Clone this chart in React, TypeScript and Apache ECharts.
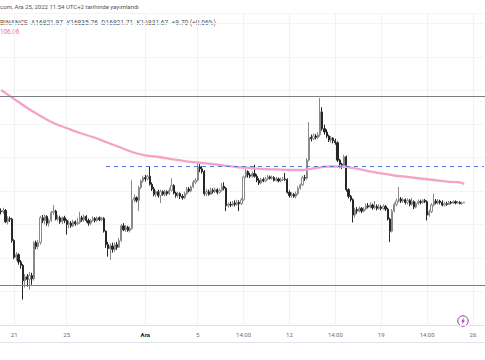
import React, { useEffect, useRef } from "react";
import * as echarts from "echarts";

// ---- time base: 4-hour candles (local UTC+2 clock), first candle 20 Nov 2022 02:00
const candleStartUtc = Date.UTC(2022, 10, 20, 2);
const candleStepHours = 4;
const categoryCount = 222;

// ---- OHLC values
const opens = [
  16700, 16690, 16710, 16540, 16590, 16580,
  16260, 16010, 16050, 15940, 15890, 15660,
  15720, 15680, 15740, 15690, 16230, 16170,
  16230, 16600, 16560, 16620, 16520, 16560,
  16680, 16700, 16580, 16600, 16540, 16600,
  16560, 16500, 16520, 16480, 16540, 16510,
  16530, 16600, 16570, 16620, 16560, 16520,
  16560, 16590, 16560, 16600, 16570, 16590,
  16400, 16200, 16140, 16180, 16130, 16200,
  16160, 16260, 16480, 16420, 16460, 16410,
  16440, 16870, 16900, 16860, 17050, 17150,
  17200, 17180, 17220, 17100, 17030, 16950,
  16990, 16930, 16990, 16950, 16990, 16960,
  17010, 17080, 16970, 16930, 16960, 16920,
  16900, 16960, 17030, 17000, 17060, 17130,
  17160, 17360, 17330, 17290, 16960, 16990,
  16950, 17010, 16990, 17020, 16980, 17010,
  17070, 17040, 16780, 16800, 16790, 16820,
  16800, 16830, 16810, 16870, 17210, 17290,
  17240, 17220, 17260, 17220, 17160, 17120,
  17170, 17150, 17180, 17210, 17190, 17200,
  17160, 17180, 17150, 17170, 17180, 17170,
  16980, 16930, 16950, 16920, 16960, 17040,
  17090, 17200, 17190, 17460, 17800, 17780,
  17820, 17800, 17840, 18180, 17930, 17880,
  17820, 17760, 17790, 17750, 17720, 17460,
  17400, 17360, 17510, 17020, 16920, 16870,
  16640, 16720, 16700, 16740, 16700, 16730,
  16780, 16760, 16790, 16750, 16770, 16740,
  16760, 16740, 16770, 16730, 16580, 16400,
  16700, 16800, 16850, 16880, 16850, 16870,
  16830, 16860, 16800, 16840, 16760, 16810,
  16840, 16830, 16860, 16840, 16640, 16690,
  16790, 16850, 16820, 16850, 16830, 16790,
  16810, 16800, 16830, 16820, 16840, 16820,
  16830, 16810, 16821.97,
];
const closes = [
  16690, 16710, 16540, 16590, 16580, 16260,
  16010, 16050, 15940, 15890, 15660, 15720,
  15680, 15740, 15690, 16230, 16170, 16230,
  16600, 16560, 16620, 16520, 16560, 16680,
  16700, 16580, 16600, 16540, 16600, 16560,
  16500, 16520, 16480, 16540, 16510, 16530,
  16600, 16570, 16620, 16560, 16520, 16560,
  16590, 16560, 16600, 16570, 16590, 16400,
  16200, 16140, 16180, 16130, 16200, 16160,
  16260, 16480, 16420, 16460, 16410, 16440,
  16870, 16900, 16860, 17050, 17150, 17200,
  17180, 17220, 17100, 17030, 16950, 16990,
  16930, 16990, 16950, 16990, 16960, 17010,
  17080, 16970, 16930, 16960, 16920, 16900,
  16960, 17030, 17000, 17060, 17130, 17160,
  17360, 17330, 17290, 16960, 16990, 16950,
  17010, 16990, 17020, 16980, 17010, 17070,
  17040, 16780, 16800, 16790, 16820, 16800,
  16830, 16810, 16870, 17210, 17290, 17240,
  17220, 17260, 17220, 17160, 17120, 17170,
  17150, 17180, 17210, 17190, 17200, 17160,
  17180, 17150, 17170, 17180, 17170, 16980,
  16930, 16950, 16920, 16960, 17040, 17090,
  17200, 17190, 17460, 17800, 17780, 17820,
  17800, 17840, 18180, 17930, 17880, 17820,
  17760, 17790, 17750, 17720, 17460, 17400,
  17360, 17510, 17020, 16920, 16870, 16640,
  16720, 16700, 16740, 16700, 16730, 16780,
  16760, 16790, 16750, 16770, 16740, 16760,
  16740, 16770, 16730, 16580, 16400, 16700,
  16800, 16850, 16880, 16850, 16870, 16830,
  16860, 16800, 16840, 16760, 16810, 16840,
  16830, 16860, 16840, 16640, 16690, 16790,
  16850, 16820, 16850, 16830, 16790, 16810,
  16800, 16830, 16820, 16840, 16820, 16830,
  16810, 16821.97, 16831.67,
];
const highs = [
  16740, 16750, 16730, 16620, 16620, 16600,
  16280, 16090, 16070, 15970, 15910, 15760,
  15760, 15790, 15780, 16250, 16260, 16270,
  16630, 16640, 16650, 16640, 16590, 16700,
  16790, 16720, 16640, 16630, 16620, 16630,
  16580, 16560, 16550, 16570, 16560, 16600,
  16690, 16630, 16650, 16640, 16590, 16580,
  16620, 16610, 16620, 16620, 16610, 16610,
  16410, 16240, 16220, 16230, 16230, 16240,
  16300, 16510, 16520, 16490, 16480, 16470,
  17160, 16950, 16920, 17080, 17170, 17230,
  17240, 17240, 17360, 17130, 17060, 17010,
  17020, 17020, 17010, 17020, 17010, 17050,
  17190, 17100, 16990, 16990, 16980, 16950,
  16990, 17060, 17060, 17080, 17160, 17190,
  17430, 17400, 17370, 17310, 17030, 17020,
  17050, 17040, 17050, 17040, 17040, 17120,
  17130, 17060, 16830, 16840, 16850, 16860,
  16870, 16860, 16900, 17230, 17330, 17310,
  17270, 17290, 17390, 17250, 17190, 17200,
  17200, 17210, 17240, 17230, 17230, 17220,
  17210, 17200, 17200, 17210, 17270, 17190,
  17010, 16980, 16970, 16990, 17070, 17110,
  17230, 17240, 17490, 18030, 17840, 17860,
  17850, 17880, 18390, 18250, 17990, 17920,
  17840, 17820, 17800, 17780, 17740, 17480,
  17420, 17540, 17530, 17040, 16940, 16890,
  16750, 16760, 16770, 16760, 16760, 16810,
  16820, 16830, 16810, 16850, 16800, 16800,
  16790, 16800, 16790, 16750, 16600, 16730,
  16830, 16890, 17060, 16910, 16900, 16890,
  16890, 16880, 16900, 16860, 16840, 16870,
  16870, 16880, 16880, 16860, 16720, 16820,
  16960, 16880, 16880, 16870, 16860, 16840,
  16840, 16850, 16850, 16860, 16860, 16850,
  16850, 16840, 16835.76,
];
const lows = [
  16650, 16660, 16520, 16500, 16540, 16230,
  15980, 15960, 15900, 15840, 15380, 15560,
  15570, 15530, 15600, 15660, 16130, 16130,
  16200, 16520, 16500, 16480, 16470, 16540,
  16640, 16560, 16550, 16510, 16510, 16520,
  16350, 16440, 16450, 16460, 16480, 16490,
  16510, 16540, 16540, 16530, 16480, 16490,
  16540, 16530, 16540, 16550, 16550, 16380,
  16150, 16020, 15970, 16080, 16090, 16120,
  16150, 16240, 16400, 16390, 16390, 16380,
  16420, 16830, 16830, 16700, 17030, 17120,
  17140, 17160, 17080, 17000, 16920, 16910,
  16900, 16820, 16930, 16920, 16930, 16940,
  16990, 16950, 16900, 16900, 16880, 16870,
  16880, 16940, 16980, 16980, 17040, 17100,
  17140, 17280, 17260, 16930, 16920, 16930,
  16940, 16960, 16970, 16950, 16960, 16990,
  17010, 16700, 16750, 16760, 16770, 16770,
  16780, 16700, 16790, 16850, 17190, 17200,
  17190, 17200, 17200, 17130, 17090, 17100,
  17130, 17130, 17160, 17170, 17170, 17140,
  17140, 17130, 17130, 17150, 17150, 16960,
  16900, 16900, 16900, 16890, 16940, 17020,
  17070, 17150, 17170, 17440, 17740, 17760,
  17770, 17780, 17810, 17900, 17840, 17790,
  17730, 17720, 17710, 17690, 17430, 17340,
  17330, 17340, 16990, 16890, 16840, 16530,
  16600, 16660, 16680, 16670, 16680, 16710,
  16740, 16740, 16720, 16730, 16710, 16720,
  16710, 16720, 16700, 16560, 16240, 16380,
  16680, 16770, 16830, 16820, 16820, 16800,
  16800, 16770, 16780, 16730, 16740, 16790,
  16800, 16810, 16820, 16560, 16620, 16670,
  16770, 16800, 16800, 16800, 16770, 16770,
  16780, 16790, 16800, 16810, 16800, 16810,
  16800, 16800, 16821.71,
];

// moving average, one reading per day (first candle of each day) plus the latest value
const maDaily = [
  18507, 18373, 18238, 18119, 18015, 17940, 17865, 17806, 17731, 17656,
  17582, 17530, 17507, 17477, 17447, 17425, 17403, 17380, 17358, 17343,
  17328, 17321, 17313, 17313, 17343, 17365, 17365, 17336, 17298, 17261,
  17231, 17209, 17186, 17164, 17141, 17127,
];
const maLast = 17106.06;

// drawn price levels
const levelTop = 18417;
const levelBottom = 15586;
const levelDashed = 17362;
const dashedFrom = "2022-11-28 02:00";

// time-axis tick labels
const tickLabels: [string, string][] = [
  ["2022-11-21 02:00", "21"],
  ["2022-11-25 02:00", "25"],
  ["2022-12-01 02:00", "Ara"],
  ["2022-12-05 02:00", "5"],
  ["2022-12-08 14:00", "14:00"],
  ["2022-12-12 02:00", "12"],
  ["2022-12-15 14:00", "14:00"],
  ["2022-12-19 02:00", "19"],
  ["2022-12-22 14:00", "14:00"],
  ["2022-12-26 02:00", "26"],
];

const priceMin = 15000;
const priceMax = 19656;
const priceGridStep = 500;

const headerLine1 = "com, Ara 25, 2022 11:54 UTC+2 tarihinde yayımlandı";
const headerLine2 = "BINANCE  A16821.97  Y16835.76  D16821.71  K16831.67  +9.70 (+0.06%)";
const headerLine3 = "106.06";

const FONT = 'Roboto, "Noto Sans", "DejaVu Sans", sans-serif';

function fmtCategory(t: number): string {
  return new Date(t).toISOString().slice(0, 16).replace("T", " ");
}

export default function App() {
  const ref = useRef<HTMLDivElement>(null);

  useEffect(() => {
    document.body.style.margin = "0";
    if (!ref.current) return;
    const chart = echarts.init(ref.current, undefined, { renderer: "svg" });

    const categories = Array.from({ length: categoryCount }, (_, i) =>
      fmtCategory(candleStartUtc + i * candleStepHours * 3600 * 1000)
    );
    const tickMap: Record<string, string> = {};
    tickLabels.forEach(([c, l]) => (tickMap[c] = l));

    const candleData = opens.map((o, i) => [o, closes[i], lows[i], highs[i]]);
    const lastIdx = opens.length - 1;
    const maData = categories.map((_, i) => {
      if (i === lastIdx) return maLast;
      if (i % 6 === 0 && i / 6 < maDaily.length && i < lastIdx) return maDaily[i / 6];
      return null;
    });

    const grayLine = { color: "#7b7e87", width: 1, type: "solid" as const };
    const blueDash = { color: "#5677e0", width: 1, type: [4, 4] as any };

    chart.setOption({
      animation: false,
      backgroundColor: "#ffffff",
      grid: { left: 0, right: 0, top: 13, bottom: 35, containLabel: false },
      xAxis: {
        type: "category",
        data: categories,
        boundaryGap: true,
        axisLine: { show: true, lineStyle: { color: "#e0e3eb", width: 1 } },
        axisTick: { show: false },
        splitLine: {
          show: true,
          alignWithLabel: true,
          interval: (_i: number, v: string) => v in tickMap,
          lineStyle: { color: "#f0f2f5", width: 1 },
        } as any,
        axisLabel: {
          interval: (_i: number, v: string) => v in tickMap,
          formatter: (v: string) => (tickMap[v] === "Ara" ? "{b|Ara}" : tickMap[v] || ""),
          color: "#6a6d78",
          fontSize: 6,
          fontFamily: FONT,
          margin: 6,
          hideOverlap: false,
          rich: {
            b: { fontWeight: "bold", color: "#131722", fontSize: 6, fontFamily: FONT },
          },
        },
      },
      yAxis: {
        type: "value",
        min: priceMin,
        max: priceMax,
        interval: priceGridStep,
        axisLabel: { show: false },
        axisLine: { show: false },
        axisTick: { show: false },
        splitLine: { show: true, lineStyle: { color: "#f3f4f7", width: 1 } },
      },
      series: [
        {
          type: "candlestick",
          data: candleData,
          barWidth: 1.7,
          z: 3,
          itemStyle: {
            color: "#ffffff",
            color0: "#262626",
            borderColor: "#8a8a8a",
            borderColor0: "#262626",
            borderWidth: 1,
          },
          markLine: {
            silent: true,
            symbol: ["none", "none"],
            label: { show: false },
            emphasis: { disabled: true },
            data: [
              { yAxis: levelTop, lineStyle: grayLine },
              { yAxis: levelBottom, lineStyle: grayLine },
              [
                { coord: [dashedFrom, levelDashed], lineStyle: blueDash },
                { coord: [categories[categoryCount - 1], levelDashed], lineStyle: blueDash },
              ],
            ],
          },
        },
        {
          type: "line",
          data: maData,
          connectNulls: true,
          smooth: 0.3,
          showSymbol: false,
          symbol: "none",
          z: 4,
          lineStyle: { color: "#f4a3c6", width: 2.3 },
        },
      ],
      graphic: [
        { type: "line", shape: { x1: 0, y1: 13.5, x2: 485, y2: 13.5 }, style: { stroke: "#f0f2f5", lineWidth: 1 } },
        { type: "line", shape: { x1: 0, y1: 342.5, x2: 485, y2: 342.5 }, style: { stroke: "#e0e3eb", lineWidth: 1 } },
        {
          type: "text",
          left: 0,
          top: 3,
          style: { text: headerLine1, fontSize: 6, fill: "#50535e", fontFamily: FONT },
        },
        {
          type: "text",
          left: 0,
          top: 19.5,
          style: { text: headerLine2, fontSize: 6.6, fill: "#50535e", fontFamily: FONT },
        },
        {
          type: "text",
          left: 0,
          top: 29,
          style: { text: headerLine3, fontSize: 6.3, fill: "#ec6fa6", fontFamily: FONT },
        },
        {
          type: "group",
          x: 463,
          y: 321,
          children: [
            { type: "circle", shape: { cx: 0, cy: 0, r: 5.2 }, style: { fill: "#ffffff", stroke: "#9c27b0", lineWidth: 1 } },
            {
              type: "polygon",
              shape: { points: [[1.3, -3.4], [-1.8, 0.6], [-0.1, 0.6], [-1.1, 3.4], [1.9, -0.6], [0.2, -0.6]] },
              style: { fill: "#9c27b0" },
            },
          ],
        },
      ],
    });

    return () => chart.dispose();
  }, []);

  return <div ref={ref} style={{ width: 485, height: 360 }} />;
}
